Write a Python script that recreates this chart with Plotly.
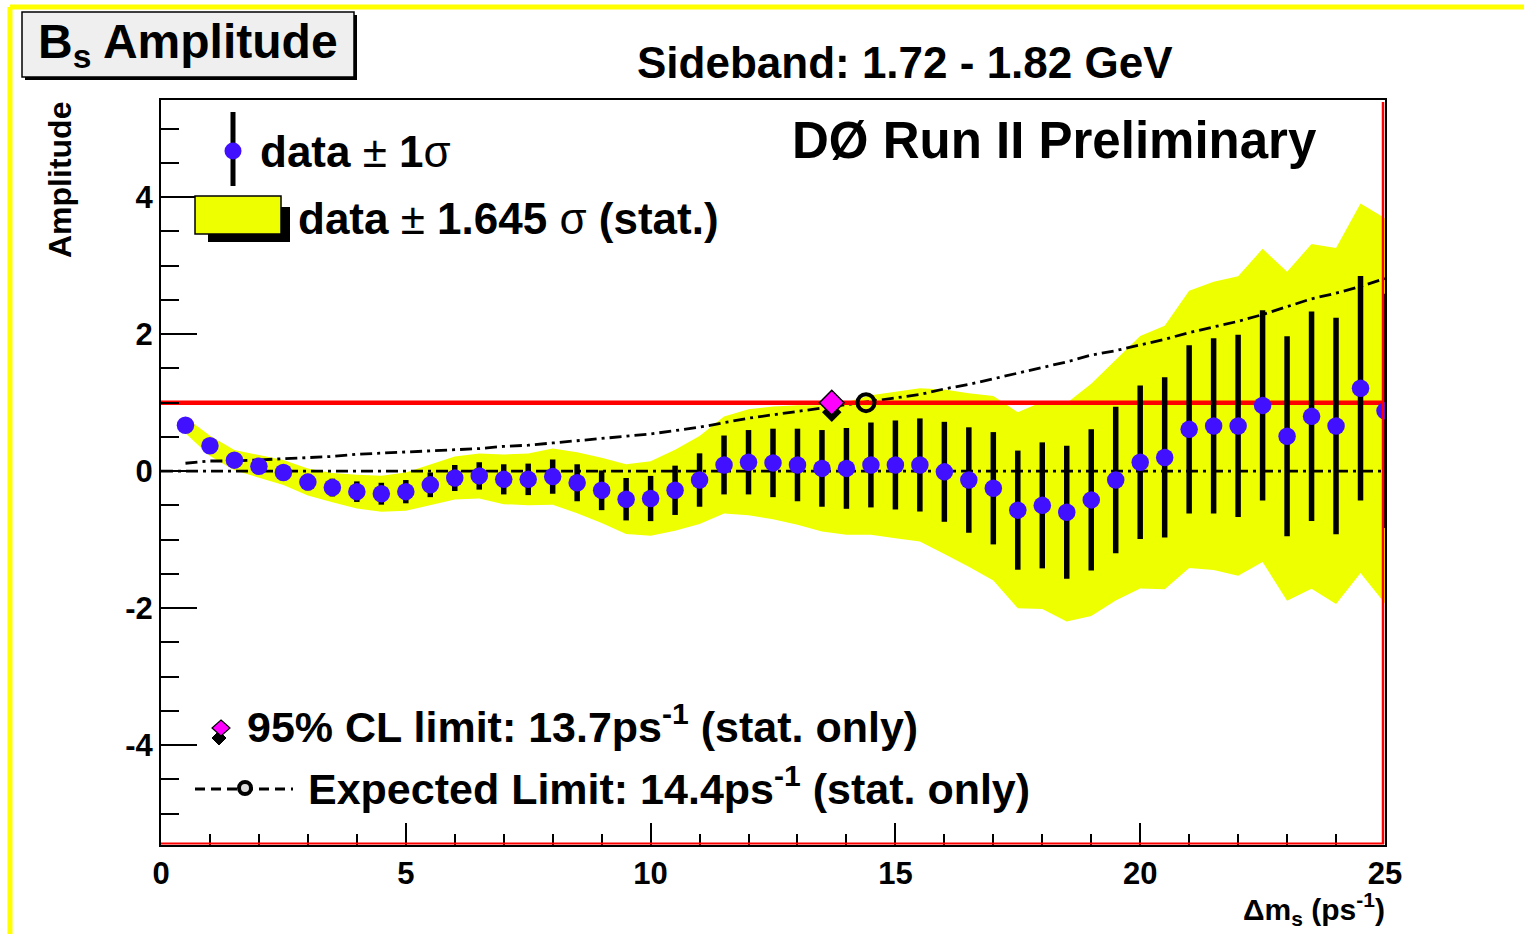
import plotly.graph_objects as go

# ---------------- data ----------------
dms = [0.5, 1.0, 1.5, 2.0, 2.5, 3.0, 3.5, 4.0, 4.5, 5.0,
       5.5, 6.0, 6.5, 7.0, 7.5, 8.0, 8.5, 9.0, 9.5, 10.0,
       10.5, 11.0, 11.5, 12.0, 12.5, 13.0, 13.5, 14.0, 14.5, 15.0,
       15.5, 16.0, 16.5, 17.0, 17.5, 18.0, 18.5, 19.0, 19.5, 20.0,
       20.5, 21.0, 21.5, 22.0, 22.5, 23.0, 23.5, 24.0, 24.5, 25.0]
amplitude = [0.67, 0.37, 0.16, 0.07, -0.02, -0.16, -0.24, -0.30, -0.33, -0.30,
             -0.20, -0.10, -0.07, -0.12, -0.12, -0.08, -0.17, -0.28, -0.41, -0.40,
             -0.28, -0.13, 0.09, 0.13, 0.12, 0.09, 0.04, 0.04, 0.09, 0.09,
             0.09, -0.01, -0.13, -0.25, -0.57, -0.50, -0.60, -0.42, -0.13, 0.13,
             0.20, 0.61, 0.66, 0.66, 0.96, 0.51, 0.80, 0.66, 1.21, 0.88]
sigma = [0.07, 0.09, 0.09, 0.10, 0.11, 0.12, 0.13, 0.15, 0.16, 0.17,
         0.18, 0.19, 0.20, 0.22, 0.23, 0.25, 0.27, 0.29, 0.31, 0.33,
         0.36, 0.39, 0.43, 0.47, 0.50, 0.53, 0.56, 0.59, 0.62, 0.65,
         0.68, 0.73, 0.77, 0.82, 0.87, 0.92, 0.97, 1.03, 1.07, 1.12,
         1.17, 1.23, 1.28, 1.33, 1.39, 1.46, 1.53, 1.58, 1.64, 1.71]
band_factor = 1.645
limit_95 = 13.7
limit_expected = 14.4
x_range = [0, 25]
y_range = [-5.46, 5.42]
x_ticks = [0, 5, 10, 15, 20, 25]
y_ticks = [-4, -2, 0, 2, 4]

# ---------------- layout helpers (pixel -> paper) ----------------
W, H = 1524, 934
L, R, T, B = 161, 1385, 100, 845
FONT = "Liberation Sans, Arial, sans-serif"
BLUE = "#4010ff"
YELLOW = "#eeff00"


def px(x):
    return (x - L) / (R - L)


def py(y):
    return (B - y) / (B - T)


shapes = []
annotations = []


def rect(x0, y0, x1, y1, fill, line_color=None, line_width=0):
    shapes.append(dict(type="rect", xref="paper", yref="paper",
                       x0=px(x0), x1=px(x1), y0=py(y0), y1=py(y1),
                       fillcolor=fill, line=dict(color=line_color or fill, width=line_width),
                       layer="above"))


def line(x0, y0, x1, y1, color, width, dash="solid"):
    shapes.append(dict(type="line", xref="paper", yref="paper",
                       x0=px(x0), x1=px(x1), y0=py(y0), y1=py(y1),
                       line=dict(color=color, width=width, dash=dash), layer="above"))


def circle(cx, cy, r, fill, line_color, line_width):
    shapes.append(dict(type="circle", xref="paper", yref="paper",
                       x0=px(cx - r), x1=px(cx + r), y0=py(cy - r), y1=py(cy + r),
                       fillcolor=fill, line=dict(color=line_color, width=line_width),
                       layer="above"))


def diamond(cx, cy, hw, hh, fill, line_color, line_width):
    pts = [(cx, cy - hh), (cx + hw, cy), (cx, cy + hh), (cx - hw, cy)]
    path = "M " + " L ".join(f"{px(a):.5f},{py(b):.5f}" for a, b in pts) + " Z"
    shapes.append(dict(type="path", xref="paper", yref="paper", path=path,
                       fillcolor=fill, line=dict(color=line_color, width=line_width),
                       layer="above"))


def text(s, x, y, size, xanchor="left", yanchor="middle", angle=0):
    annotations.append(dict(text=s, x=px(x), y=py(y), xref="paper", yref="paper",
                            xanchor=xanchor, yanchor=yanchor, showarrow=False,
                            textangle=angle,
                            font=dict(family=FONT, size=size, color="black")))


# ---------------- traces ----------------
upper = [a + band_factor * s for a, s in zip(amplitude, sigma)]
lower = [a - band_factor * s for a, s in zip(amplitude, sigma)]
expected = [band_factor * s for s in sigma]

fig = go.Figure()
fig.add_trace(go.Scatter(x=dms + dms[::-1], y=upper + lower[::-1], fill="toself",
                         fillcolor=YELLOW, line=dict(width=0), mode="lines",
                         hoverinfo="skip", showlegend=False))
fig.add_trace(go.Scatter(x=x_range, y=[0, 0], mode="lines",
                         line=dict(color="black", width=2.8, dash="12px,5px,3px,5px"),
                         showlegend=False))
fig.add_trace(go.Scatter(x=dms, y=expected, mode="lines",
                         line=dict(color="black", width=2.8, dash="12px,5px,3px,5px"),
                         showlegend=False))
fig.add_trace(go.Scatter(x=x_range, y=[1, 1], mode="lines",
                         line=dict(color="#ff0000", width=4.5), showlegend=False))
fig.add_trace(go.Scatter(x=dms, y=amplitude, mode="markers",
                         marker=dict(color=BLUE, size=17.5, line=dict(width=0)),
                         error_y=dict(type="data", array=sigma, color="black",
                                      thickness=5.5, width=0),
                         showlegend=False))
# 95% CL limit marker (with dark shadow) and expected limit marker
fig.add_trace(go.Scatter(x=[limit_95], y=[1 - 0.14], mode="markers",
                         marker=dict(symbol="diamond", color="black", size=15),
                         showlegend=False))
fig.add_trace(go.Scatter(x=[limit_95], y=[1], mode="markers",
                         marker=dict(symbol="diamond", color="#ff00ff", size=19,
                                     line=dict(color="black", width=1.5)),
                         showlegend=False))
fig.add_trace(go.Scatter(x=[limit_expected], y=[1], mode="markers",
                         marker=dict(symbol="circle-open", color="black", size=17,
                                     line=dict(color="black", width=4)),
                         showlegend=False))

# ---------------- decorations ----------------
# outer yellow canvas border
line(10, 7, W, 7, "#ffff00", 5)
line(10, 7, 10, H, "#ffff00", 5)
# red inner frame edges (right / bottom)
line(R - 2, T + 2, R - 2, B - 1, "#ff0000", 2.5)
line(L, B - 1.5, R - 1, B - 1.5, "#ff0000", 2)

# title box with shadow
rect(25, 15, 357, 80, "black")
rect(22, 12, 354, 77, "#efefef", "black", 1.5)
text("<b>B<sub>s</sub> Amplitude</b>", 188, 45, 48, xanchor="center")

text("<b>Sideband: 1.72 - 1.82 GeV</b>", 905, 62, 44, xanchor="center")
text("<b>DØ Run II Preliminary</b>", 790, 140, 51)

# legend: data +- 1 sigma
line(233, 112, 233, 186, "black", 5)
circle(233, 151, 8.5, BLUE, BLUE, 0)
text("<b>data</b> ± <b>1</b>σ", 258, 151, 44)
# legend: band
rect(208, 207, 290, 242, "black")
rect(195, 196, 281, 234, YELLOW, "black", 1.5)
text("<b>data</b> ± <b>1.645</b> σ <b>(stat.)</b>", 296, 218, 44)

# legend: limits
diamond(219, 738, 7, 7, "black", "black", 1)
diamond(221, 728, 9, 8, "#ff00ff", "black", 1.2)
text("<b>95% CL limit: 13.7ps<sup>-1</sup> (stat. only)</b>", 245, 724, 43)
line(195, 789, 293, 789, "black", 3, dash="10px,6px")
circle(245, 788, 6, "#dddddd", "black", 4)
text("<b>Expected Limit: 14.4ps<sup>-1</sup> (stat. only)</b>", 306, 786, 43)

# axis titles
text("<b>Amplitude</b>", 60, 100, 32, xanchor="center", yanchor="top", angle=-90)
text("<b>Δm<sub>s</sub> (ps<sup>-1</sup>)</b>", 1387, 909, 30, xanchor="right")

fig.update_layout(
    width=W, height=H, autosize=False,
    margin=dict(l=L, r=W - R, t=T, b=H - B, pad=0),
    paper_bgcolor="white", plot_bgcolor="white",
    showlegend=False,
    shapes=shapes, annotations=annotations,
    xaxis=dict(range=x_range, tickvals=x_ticks, ticktext=[str(v) for v in x_ticks],
               ticks="inside", ticklen=22, tickwidth=1.5, tickcolor="black",
               minor=dict(ticks="inside", ticklen=11, dtick=1, tickwidth=1.5,
                          tickcolor="black", showgrid=False),
               showline=True, linecolor="black", linewidth=2, mirror=True,
               showgrid=False, zeroline=False,
               tickfont=dict(family=FONT, size=31, color="black", weight="bold")),
    yaxis=dict(range=y_range, tickvals=y_ticks, ticktext=[str(v) for v in y_ticks],
               ticks="inside", ticklen=36, tickwidth=1.5, tickcolor="black",
               minor=dict(ticks="inside", ticklen=18, dtick=0.5, tick0=0, tickwidth=1.5,
                          tickcolor="black", showgrid=False),
               showline=True, linecolor="black", linewidth=2, mirror=True,
               showgrid=False, zeroline=False,
               tickfont=dict(family=FONT, size=31, color="black", weight="bold")),
)

fig.write_html("out.html")
